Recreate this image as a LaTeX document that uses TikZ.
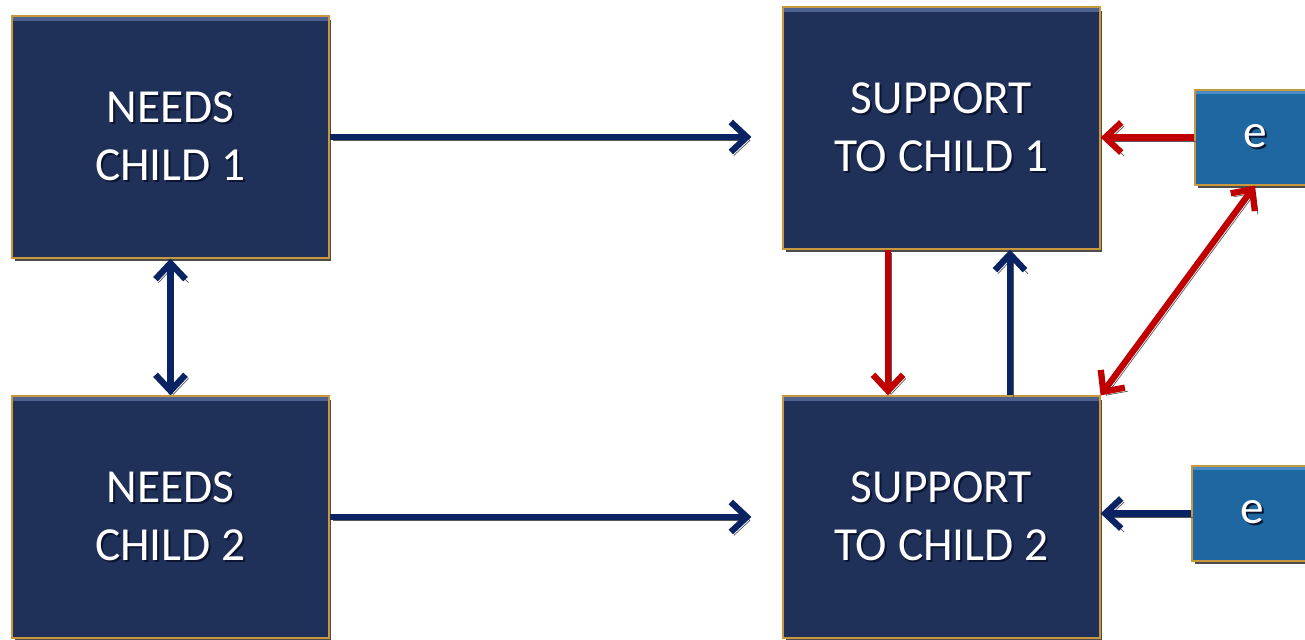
\documentclass[tikz,border=0pt]{standalone}
\usepackage{fontspec}
\setmainfont{Carlito}
\usetikzlibrary{arrows.meta,shadows}
\definecolor{boxnavy}{HTML}{1F3059}
\definecolor{boxblue}{HTML}{1E67A0}
\definecolor{boxgold}{HTML}{C9983E}
\definecolor{bandnavy}{HTML}{4D628F}
\definecolor{bandblue}{HTML}{4A8CC4}
\definecolor{arrnavy}{HTML}{0A2463}
\definecolor{arrred}{HTML}{C00000}
\definecolor{txtshade}{HTML}{0B1430}
% white text with a dark shadow
\newcommand{\shd}[1]{\makebox[0pt][l]{\kern1.1pt\raisebox{-1.3pt}{\textcolor{txtshade}{#1}}}#1}
\begin{document}
\begin{tikzpicture}[x=0.02cm,y=-0.02cm]
                \tikzstyle{every node}+=[inner sep=0pt]
                \tikzstyle{bigbox}=[draw=boxgold, line width=0.7pt, fill=boxnavy,
                    minimum width=6.34cm, minimum height=4.84cm, text=white, align=center,
                    font=\fontsize{27}{33}\selectfont,
                    drop shadow={shadow xshift=0.05cm, shadow yshift=-0.07cm, fill=black!70, opacity=1},
                    path picture={\fill[bandnavy] (path picture bounding box.north west) rectangle ([yshift=-0.09cm]path picture bounding box.north east);}]
                \tikzstyle{ebox}=[draw=boxgold, line width=0.7pt, fill=boxblue,
                    minimum width=2.4cm, minimum height=1.9cm, text=white,
                    font=\fontsize{27}{33}\selectfont,
                    drop shadow={shadow xshift=0.05cm, shadow yshift=-0.07cm, fill=black!70, opacity=1},
                    path picture={\fill[bandblue] (path picture bounding box.north west) rectangle ([yshift=-0.07cm]path picture bounding box.north east);}]
                \tikzstyle{link}=[line width=3.6pt, arrows={-Straight Barb[length=0.32cm,width=0.6cm]},
                    preaction={draw=black!65, transform canvas={shift={(0.06cm,-0.07cm)}}}]
                \tikzstyle{link2}=[link, arrows={Straight Barb[length=0.32cm,width=0.6cm]-Straight Barb[length=0.32cm,width=0.6cm]}]
                \clip (0,0) rectangle (1305,639);
                % boxes
                \node [bigbox] (needsA) at (170.5,137) {\shd{NEEDS}\\\shd{CHILD 1}};
                \node [bigbox] (needsB) at (170.5,517) {\shd{NEEDS}\\\shd{CHILD 2}};
                \node [bigbox] (supportA) at (941.5,128) {\shd{SUPPORT}\\\shd{TO CHILD 1}};
                \node [bigbox] (supportB) at (941.5,517) {\shd{SUPPORT}\\\shd{TO CHILD 2}};
                \node [ebox] (eA) at (1255,137.5) {\shd{e}};
                \node [ebox] (eB) at (1252,513.5) {\shd{e}};
                % needs to support
                \draw [link, arrnavy, shorten >=0.62cm] (needsA.east) -- (needsA.east -| supportA.west);
                \draw [link, arrnavy, shorten >=0.62cm] (needsB.east) -- (needsB.east -| supportB.west);
                \draw [link2, arrnavy] (needsA.south) -- (needsB.north);
                % between supports
                \draw [link, arrred] ([xshift=-1.07cm]supportA.south) -- ([xshift=-1.07cm]supportB.north);
                \draw [link, arrnavy] ([xshift=1.37cm]supportB.north) -- ([xshift=1.37cm]supportA.south);
                % from e
                \draw [link, arrred] (eA.west) -- (eA.west -| supportA.east);
                \draw [link2, arrred] (supportB.north east) -- (eA.south);
                \draw [link, arrnavy] (eB.west) -- (eB.west -| supportB.east);
\end{tikzpicture}
\end{document}
